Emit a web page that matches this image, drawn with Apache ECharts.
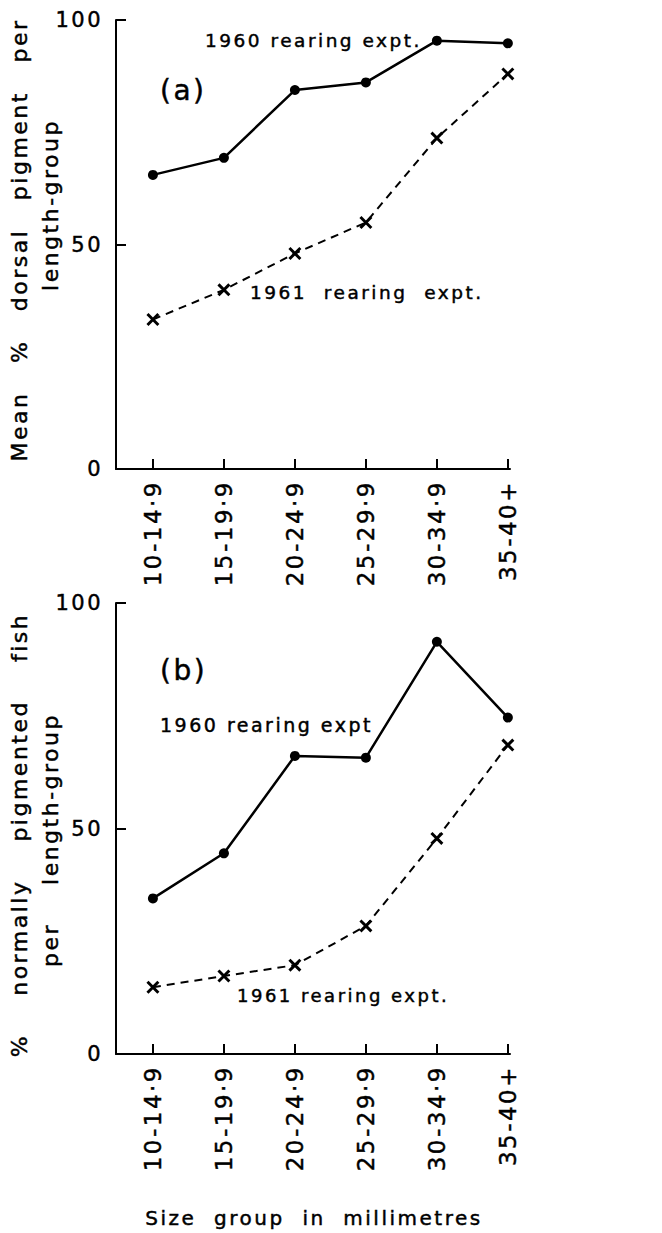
<!DOCTYPE html>
<html>
<head>
<meta charset="utf-8">
<script src="https://cdn.jsdelivr.net/npm/echarts@6/dist/echarts.min.js"></script>
<style>
  html, body { margin: 0; padding: 0; background: #fff; }
  #chart { width: 662px; height: 1233px; }
  #chart svg text { letter-spacing: 2.5px; stroke: #000; stroke-width: 0.45px; }
</style>
</head>
<body>
<div id="chart"></div>
<script>
// ---- data ----
const categories = ['10-14·9', '15-19·9', '20-24·9', '25-29·9', '30-34·9', '35-40+'];
const yTicks = [0, 50, 100];
// (a) Mean % dorsal pigment per length-group
const pigment1960 = [65.5, 69.3, 84.4, 86.1, 95.4, 94.8];
const pigment1961 = [33.3, 39.9, 48.0, 54.9, 73.7, 88.0];
// (b) % normally pigmented fish per length-group
const normal1960 = [34.5, 44.5, 66.1, 65.7, 91.4, 74.6];
const normal1961 = [14.8, 17.3, 19.7, 28.4, 47.8, 68.5];

const FONT = '"DejaVu Sans", sans-serif';
const catIdx = categories.map((c, i) => i);
const pairs = vals => vals.map((v, i) => [i, v]);
const crossPath = 'path://M0,1.6L1.6,0L10,8.4L8.4,10Z M8.4,0L10,1.6L1.6,10L0,8.4Z';

function xAxisFor(gi) {
  return {
    type: 'value', gridIndex: gi, min: -0.52, max: 5.03,
    axisLine: { show: true, onZero: false, lineStyle: { color: '#000', width: 2 } },
    axisTick: { show: true, inside: true, length: 10, customValues: catIdx, lineStyle: { color: '#000', width: 2 } },
    axisLabel: {
      show: true, customValues: catIdx, rotate: 90, margin: 11,
      formatter: v => categories[Math.round(v)],
      color: '#000', fontFamily: FONT, fontSize: 23
    },
    splitLine: { show: false }
  };
}
function yAxisFor(gi) {
  return {
    type: 'value', gridIndex: gi, min: 0, max: 100, interval: 50,
    axisLine: { show: true, onZero: false, lineStyle: { color: '#000', width: 2 } },
    axisTick: { show: true, inside: true, length: 10, customValues: yTicks, lineStyle: { color: '#000', width: 2 } },
    axisLabel: { show: true, margin: 13, color: '#000', fontFamily: FONT, fontSize: 21 },
    splitLine: { show: false }
  };
}
function solid(name, vals, gi) {
  return {
    name, type: 'line', xAxisIndex: gi, yAxisIndex: gi, data: pairs(vals),
    symbol: 'circle', symbolSize: 10, showSymbol: true,
    lineStyle: { color: '#000', width: 2.5 }, itemStyle: { color: '#000' }, z: 3
  };
}
function dashed(name, vals, gi) {
  return {
    name, type: 'line', xAxisIndex: gi, yAxisIndex: gi, data: pairs(vals),
    symbol: crossPath, symbolSize: 13, showSymbol: true,
    lineStyle: { color: '#000', width: 2, type: [8, 6] }, itemStyle: { color: '#000' }, z: 3
  };
}
function txt(text, x, y, size, align, rot) {
  return {
    type: 'text', x, y, rotation: rot || 0, silent: true,
    style: { text, font: size + 'px ' + FONT, fill: '#000', align: align || 'left', textAlign: align || 'left', verticalAlign: 'middle', textVerticalAlign: 'middle' }
  };
}

const chart = echarts.init(document.getElementById('chart'), null, { renderer: 'svg' });
chart.setOption({
  animation: false,
  backgroundColor: '#fff',
  textStyle: { fontFamily: FONT, color: '#000' },
  grid: [
    { left: 116, top: 20, width: 394, height: 449 },
    { left: 116, top: 603, width: 394, height: 451 }
  ],
  xAxis: [xAxisFor(0), xAxisFor(1)],
  yAxis: [yAxisFor(0), yAxisFor(1)],
  series: [
    solid('1960 rearing expt. (a)', pigment1960, 0),
    dashed('1961 rearing expt. (a)', pigment1961, 0),
    solid('1960 rearing expt (b)', normal1960, 1),
    dashed('1961 rearing expt. (b)', normal1961, 1)
  ],
  graphic: [
    txt('1960 rearing expt.', 205, 40, 18.5),
    txt('(a)', 160, 90, 28),
    txt('1961  rearing  expt.', 250, 292, 18.5),
    txt('(b)', 160, 670, 28),
    txt('1960 rearing expt', 160, 725, 19),
    txt('1961 rearing expt.', 237, 995, 18),
    txt('Size  group  in  millimetres', 314, 1218, 20, 'center'),
    txt('Mean   %   dorsal   pigment   per', 19, 240, 22, 'center', Math.PI / 2),
    txt('length-group', 50, 205, 22, 'center', Math.PI / 2),
    txt('%    normally    pigmented    fish', 19, 835, 22, 'center', Math.PI / 2),
    txt('per    length-group', 50, 840, 22, 'center', Math.PI / 2)
  ]
});
</script>
</body>
</html>
